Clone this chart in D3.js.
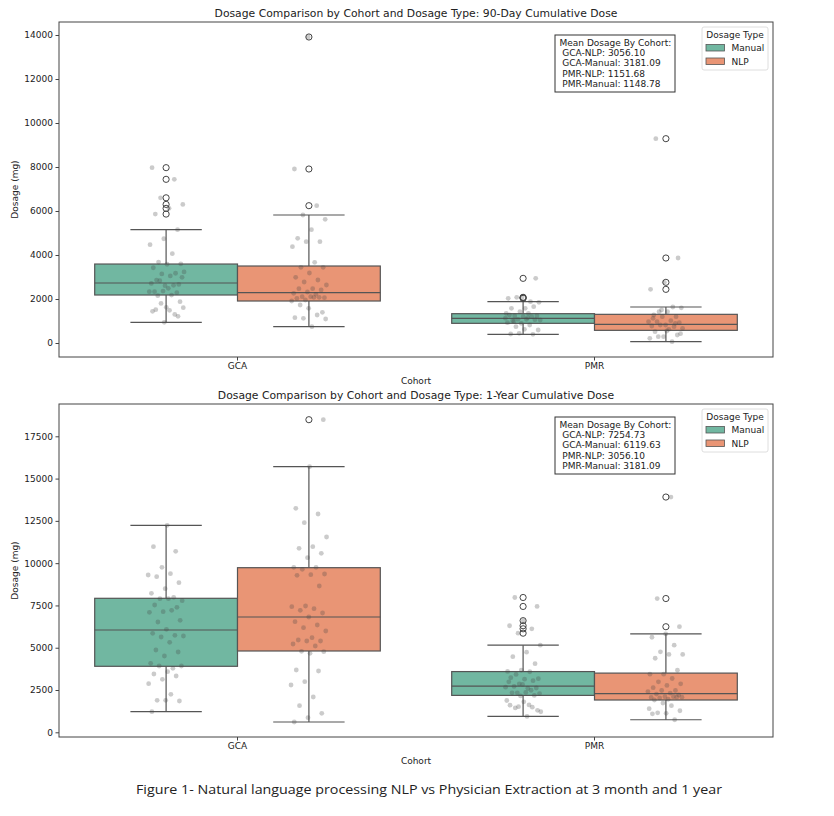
<!DOCTYPE html>
<html>
<head>
<meta charset="utf-8">
<script src="https://cdn.jsdelivr.net/npm/d3@7"></script>
<style>
  body { margin: 0; background: #fff; }
  text { font-family: "DejaVu Sans", sans-serif; fill: #222; }
</style>
</head>
<body>
<div id="chart-area"></div>
<script>
// categories
let cohorts = ["GCA", "PMR"];
let dosageTypes = ["Manual", "NLP"];
let colors = ["#71b7a1", "#e99575"]; // Set2, desaturated like seaborn

// ---- 90-day panel ----
// group order: GCA-Manual, GCA-NLP, PMR-Manual, PMR-NLP
let q1_90 = [2182, 1909, 894, 576];
let med_90 = [2727, 2286, 1121, 848];
let q3_90 = [3590, 3500, 1333, 1303];
let lo_90 = [940, 742, 394, 61];
let hi_90 = [5150, 5818, 1879, 1636];

let gcaManual90 = [7970, 7440, 6600, 6300, 6120, 5860, 5150, 4740, 4470, 4060, 3680, 3600, 3580, 3420,
  3170, 3140, 3230, 3050, 2860, 2665, 2605, 2710, 2620, 2830, 2985, 2485, 2333, 2288, 2360, 2333, 2180,
  2150, 1880, 1620, 1440, 1300, 1800, 1605, 1485, 1515, 1215, 940];
let gcaNlp90 = [13909, 7909, 6242, 5818, 5621, 5152, 4758, 4606, 4606, 4379, 3667, 3439, 3439, 3182,
  2985, 2864, 2773, 2636, 2470, 2470, 2409, 2318, 2258, 2212, 2106, 2061, 2106, 2030, 2076, 1955, 1909,
  2076, 1727, 1394, 1576, 1151, 1273, 1121, 1091, 742];
let pmrManual90 = [2939, 2061, 2030, 1879, 2076, 1848, 1576, 1576, 1652, 1424, 1348, 1348, 1227, 1227,
  1197, 1273, 1197, 1076, 1045, 1076, 1015, 1060, 894, 924, 818, 742, 591, 621, 409, 394, 439, 1130,
  1150, 980];
let pmrNlp90 = [9288, 3864, 2758, 2439, 1636, 1424, 1600, 1424, 1273, 1197, 1197, 970, 1015, 970, 924,
  818, 773, 742, 818, 667, 621, 515, 364, 288, 212, 61, 288, 424, 545, 1121, 894, 1500];

let meanLabels90 = ["GCA-NLP", "GCA-Manual", "PMR-NLP", "PMR-Manual"];
let meanValues90 = [3056.10, 3181.09, 1151.68, 1148.78];
let yTicks90 = [0, 2000, 4000, 6000, 8000, 10000, 12000, 14000];

// ---- 1-year panel ----
let q1_1y = [3902, 4807, 2182, 1909];
let med_1y = [6048, 6817, 2727, 2286];
let q3_1y = [7922, 9732, 3590, 3500];
let lo_1y = [1218, 609, 940, 742];
let hi_1y = [12238, 15703, 5150, 5818];

let gcaManual1y = [12238, 10973, 10700, 9755, 9300, 9377, 9200, 8845, 8490, 8218, 7982, 7899, 7781, 7899,
  7526, 7390, 7130, 7094, 7213, 6521, 6622, 6090, 5853, 5735, 5634, 5694, 5321, 4866, 4748, 4511, 4079,
  3784, 3920, 3920, 3583, 3447, 3328, 3133, 2873, 2247, 1892, 1851, 1892, 1218];
let gcaNlp1y = [18482, 15703, 13243, 12907, 12393, 11547, 10973, 10879, 10583, 10323, 9755, 9755, 9637,
  9359, 9318, 9282, 8649, 7467, 7426, 7308, 7213, 7053, 6817, 6539, 6344, 6186, 5989, 5594, 5457, 5398,
  5398, 5220, 5102, 4789, 4769, 4670, 3683, 3624, 2992, 2796, 2087, 1573, 1123, 863, 609];
// the 1-year PMR groups hold the same values as the 90-day GCA groups
let pmrManual1y = gcaManual90;
let pmrNlp1y = gcaNlp90;

let meanLabels1y = ["GCA-NLP", "GCA-Manual", "PMR-NLP", "PMR-Manual"];
let meanValues1y = [7254.73, 6119.63, 3056.10, 3181.09];
let yTicks1y = [0, 2500, 5000, 7500, 10000, 12500, 15000, 17500];

let width = 834, height = 816;
let svg = d3.select("#chart-area").append("svg")
  .attr("width", width).attr("height", height);

let lineColor = "#555";

function drawPanel(p) {
  let left = 59, right = 773;
  let g = svg.append("g");

  let xScale = d3.scaleBand().domain(cohorts).range([left, right]).padding(0);
  let hueScale = d3.scaleBand().domain(dosageTypes)
    .range([xScale.bandwidth() * 0.1, xScale.bandwidth() * 0.9]).padding(0);
  let yScale = d3.scaleLinear().domain(p.yDomain).range([p.bottom, p.top]);
  let bw = hueScale.bandwidth();

  let groups = [];
  cohorts.forEach(function(c, ci) {
    dosageTypes.forEach(function(t, ti) {
      let k = ci * 2 + ti;
      groups.push({
        cohort: c, type: t, ti: ti, k: k,
        x0: xScale(c) + hueScale(t),
        q1: p.q1[k], med: p.med[k], q3: p.q3[k], lo: p.lo[k], hi: p.hi[k],
        pts: p.points[k]
      });
    });
  });

  // boxes
  groups.forEach(function(d) {
    let cx = d.x0 + bw / 2;
    let bg = g.append("g");
    bg.append("line").attr("x1", cx).attr("x2", cx)
      .attr("y1", yScale(d.q3)).attr("y2", yScale(d.hi))
      .attr("stroke", lineColor).attr("stroke-width", 1.2);
    bg.append("line").attr("x1", cx).attr("x2", cx)
      .attr("y1", yScale(d.q1)).attr("y2", yScale(d.lo))
      .attr("stroke", lineColor).attr("stroke-width", 1.2);
    [d.hi, d.lo].forEach(function(v) {
      bg.append("line").attr("x1", cx - bw / 4).attr("x2", cx + bw / 4)
        .attr("y1", yScale(v)).attr("y2", yScale(v))
        .attr("stroke", lineColor).attr("stroke-width", 1.2);
    });
    bg.append("rect")
      .attr("x", d.x0).attr("y", yScale(d.q3))
      .attr("width", bw).attr("height", yScale(d.q1) - yScale(d.q3))
      .attr("fill", colors[d.ti]).attr("stroke", lineColor).attr("stroke-width", 1.2);
    bg.append("line").attr("x1", d.x0).attr("x2", d.x0 + bw)
      .attr("y1", yScale(d.med)).attr("y2", yScale(d.med))
      .attr("stroke", lineColor).attr("stroke-width", 1.2);
    // fliers
    bg.selectAll("circle.flier")
      .data(d.pts.filter(function(v) { return v > d.hi || v < d.lo; }))
      .enter().append("circle")
      .attr("cx", cx).attr("cy", function(v) { return yScale(v); })
      .attr("r", 3.1).attr("fill", "none")
      .attr("stroke", "#444").attr("stroke-width", 1);
  });

  // strip points (deterministic jitter)
  groups.forEach(function(d) {
    let cx = d.x0 + bw / 2;
    g.selectAll(null).data(d.pts).enter().append("circle")
      .attr("cx", function(v, i) {
        let f = (i * 0.618034 + d.k * 0.37 + p.seed) % 1;
        return cx + (f - 0.5) * 36;
      })
      .attr("cy", function(v) { return yScale(v); })
      .attr("r", 2.4)
      .attr("fill", "#444").attr("fill-opacity", 0.28);
  });

  // frame
  g.append("rect").attr("x", left).attr("y", p.top)
    .attr("width", right - left).attr("height", p.bottom - p.top)
    .attr("fill", "none").attr("stroke", "#444").attr("stroke-width", 1);

  // axes
  let yAxis = g.append("g").attr("transform", "translate(" + left + ",0)")
    .call(d3.axisLeft(yScale).tickValues(p.ticks).tickFormat(d3.format("d"))
      .tickSize(3.5).tickPadding(2.5));
  yAxis.select(".domain").remove();
  yAxis.selectAll("line").attr("stroke", "#444");
  yAxis.selectAll("text").style("font-size", "9px").attr("fill", "#222");

  let xAxis = g.append("g").attr("transform", "translate(0," + p.bottom + ")")
    .call(d3.axisBottom(xScale).tickSize(3.5).tickPadding(2.5));
  xAxis.select(".domain").remove();
  xAxis.selectAll("line").attr("stroke", "#444");
  xAxis.selectAll("text").style("font-size", "9px").attr("fill", "#222");

  let mid = (left + right) / 2;
  g.append("text").attr("x", mid).attr("y", p.top - 5.5)
    .attr("text-anchor", "middle").style("font-size", "10.8px").text(p.title);
  g.append("text").attr("x", mid).attr("y", p.bottom + 26.5)
    .attr("text-anchor", "middle").style("font-size", "9px").text("Cohort");
  g.append("text")
    .attr("transform", "translate(18," + (p.top + p.bottom) / 2 + ") rotate(-90)")
    .attr("text-anchor", "middle").style("font-size", "9px").text("Dosage (mg)");

  // mean annotation
  let ax = left + 496, ay = p.top + 13;
  g.append("rect").attr("x", ax).attr("y", ay).attr("width", 120).attr("height", 57)
    .attr("fill", "#fff").attr("stroke", "#333").attr("stroke-width", 1);
  let lines = ["Mean Dosage By Cohort:"].concat(p.meanLabels.map(function(l, i) {
    return " " + l + ": " + p.meanValues[i].toFixed(2);
  }));
  g.append("text").attr("x", ax + 4.5).attr("y", ay + 10.5)
    .style("font-size", "9px").style("white-space", "pre")
    .selectAll("tspan").data(lines).enter().append("tspan")
    .attr("x", ax + 4.5).attr("dy", function(d, i) { return i === 0 ? 0 : 10.35; })
    .text(function(d) { return d; });

  // legend
  let lx = right - 71, ly = p.top + 5;
  g.append("rect").attr("x", lx).attr("y", ly).attr("width", 66).attr("height", 43)
    .attr("rx", 2).attr("fill", "#fff").attr("fill-opacity", 0.8)
    .attr("stroke", "#d6d6d6").attr("stroke-width", 0.8);
  g.append("text").attr("x", lx + 33).attr("y", ly + 11)
    .attr("text-anchor", "middle").style("font-size", "9px").text("Dosage Type");
  dosageTypes.forEach(function(t, i) {
    g.append("rect").attr("x", lx + 4).attr("y", ly + 17.5 + i * 13.5)
      .attr("width", 18.5).attr("height", 6.5)
      .attr("fill", colors[i]).attr("stroke", lineColor).attr("stroke-width", 0.8);
    g.append("text").attr("x", lx + 29.5).attr("y", ly + 24.3 + i * 13.5)
      .style("font-size", "9px").text(t);
  });
}

drawPanel({
  top: 22, bottom: 357, yDomain: [-636, 14591], ticks: yTicks90, seed: 0.11,
  title: "Dosage Comparison by Cohort and Dosage Type: 90-Day Cumulative Dose",
  q1: q1_90, med: med_90, q3: q3_90, lo: lo_90, hi: hi_90,
  points: [gcaManual90, gcaNlp90, pmrManual90, pmrNlp90],
  meanLabels: meanLabels90, meanValues: meanValues90
});

drawPanel({
  top: 404, bottom: 737, yDomain: [-278, 19410], ticks: yTicks1y, seed: 0.53,
  title: "Dosage Comparison by Cohort and Dosage Type: 1-Year Cumulative Dose",
  q1: q1_1y, med: med_1y, q3: q3_1y, lo: lo_1y, hi: hi_1y,
  points: [gcaManual1y, gcaNlp1y, pmrManual1y, pmrNlp1y],
  meanLabels: meanLabels1y, meanValues: meanValues1y
});

// caption
svg.append("text").attr("x", 429).attr("y", 794)
  .attr("text-anchor", "middle")
  .style("font-family", "'Open Sans', Lato, sans-serif").style("font-size", "13.5px")
  .attr("textLength", 586).attr("lengthAdjust", "spacingAndGlyphs")
  .attr("fill", "#111")
  .text("Figure 1- Natural language processing NLP vs Physician Extraction at 3 month and 1 year");
</script>
</body>
</html>
